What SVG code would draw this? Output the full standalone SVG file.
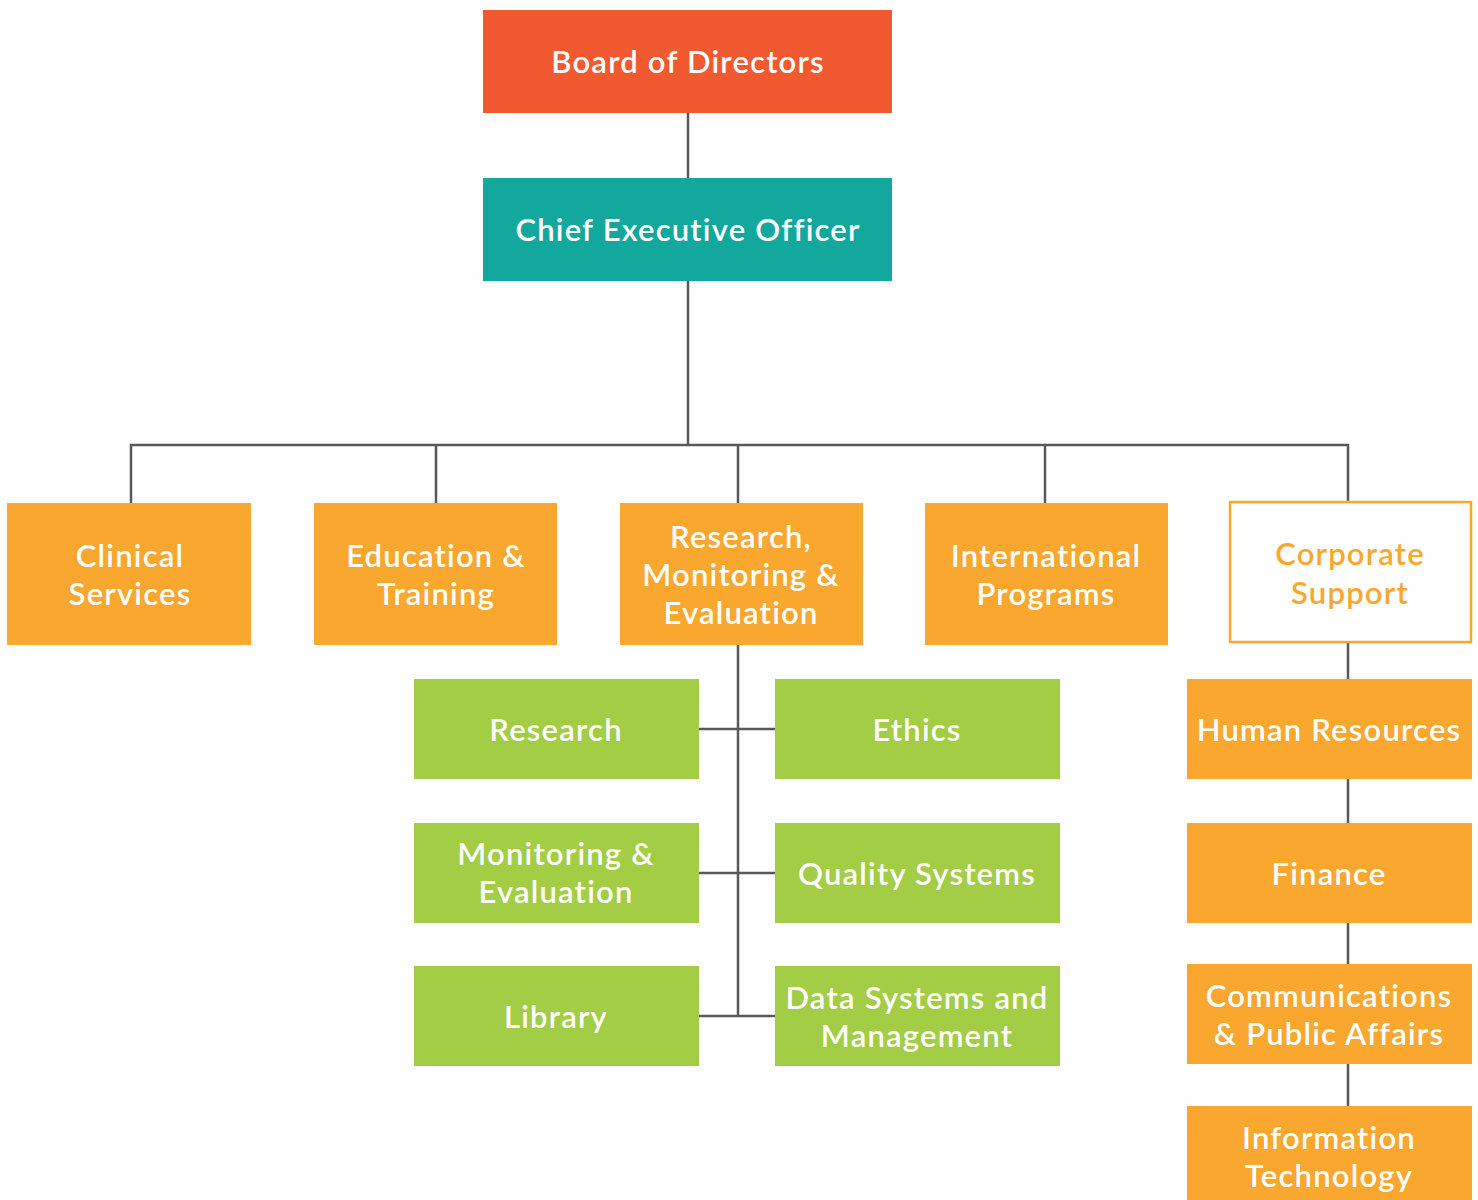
<svg xmlns="http://www.w3.org/2000/svg" width="1478" height="1200" viewBox="0 0 1478 1200">
<style>
.t{font-family:Lato,"Open Sans",sans-serif;font-size:31px;font-weight:600;fill:#fff;text-anchor:middle;letter-spacing:1.2px}
.ln{stroke:#58595B;stroke-width:2.5;fill:none}
.or{fill:#F9A72E}
.gr{fill:#A3CD45}
</style>
<rect width="1478" height="1200" fill="#fff"/>
<g id="connectors" class="ln">
<path d="M688 113V178M688 281V445M131 503V445H1348V503M436 445V503M738 445V503M1045 445V503"/>
<path d="M738 645V1016M699 729H775M699 873H775M699 1016H775"/>
<path d="M1348 643V1106"/>
</g>
<g id="board"><rect x="483" y="10" width="409" height="103" fill="#F15A31"/><text class="t" x="688" y="73">Board of Directors</text></g>
<g id="ceo"><rect x="483" y="178" width="409" height="103" fill="#13A89E"/><text class="t" x="688" y="241">Chief Executive Officer</text></g>
<g id="clinical"><rect class="or" x="7" y="503" width="244" height="142"/><text class="t" x="130" y="567">Clinical</text><text class="t" x="130" y="605">Services</text></g>
<g id="education"><rect class="or" x="314" y="503" width="243" height="142"/><text class="t" x="436" y="567">Education &amp;</text><text class="t" x="436" y="605">Training</text></g>
<g id="rme"><rect class="or" x="620" y="503" width="243" height="142"/><text class="t" x="741" y="548">Research,</text><text class="t" x="741" y="586">Monitoring &amp;</text><text class="t" x="741" y="624">Evaluation</text></g>
<g id="international"><rect class="or" x="925" y="503" width="243" height="142"/><text class="t" x="1046" y="567">International</text><text class="t" x="1046" y="605">Programs</text></g>
<g id="corporate"><rect x="1230" y="502" width="241" height="140" fill="#fff" stroke="#F9A72E" stroke-width="2.5"/><text class="t" x="1350" y="565" style="fill:#F9A72E">Corporate</text><text class="t" x="1350" y="604" style="fill:#F9A72E">Support</text></g>
<g id="research"><rect class="gr" x="414" y="679" width="285" height="100"/><text class="t" x="556" y="741">Research</text></g>
<g id="ethics"><rect class="gr" x="775" y="679" width="285" height="100"/><text class="t" x="917" y="741">Ethics</text></g>
<g id="me"><rect class="gr" x="414" y="823" width="285" height="100"/><text class="t" x="556" y="865">Monitoring &amp;</text><text class="t" x="556" y="903">Evaluation</text></g>
<g id="quality"><rect class="gr" x="775" y="823" width="285" height="100"/><text class="t" x="917" y="885">Quality Systems</text></g>
<g id="library"><rect class="gr" x="414" y="966" width="285" height="100"/><text class="t" x="556" y="1028">Library</text></g>
<g id="data"><rect class="gr" x="775" y="966" width="285" height="100"/><text class="t" x="917" y="1009">Data Systems and</text><text class="t" x="917" y="1047">Management</text></g>
<g id="hr"><rect class="or" x="1187" y="679" width="285" height="100"/><text class="t" x="1329" y="741">Human Resources</text></g>
<g id="finance"><rect class="or" x="1187" y="823" width="285" height="100"/><text class="t" x="1329" y="885">Finance</text></g>
<g id="comms"><rect class="or" x="1187" y="964" width="285" height="100"/><text class="t" x="1329" y="1007">Communications</text><text class="t" x="1329" y="1045">&amp; Public Affairs</text></g>
<g id="it"><rect class="or" x="1187" y="1106" width="285" height="100"/><text class="t" x="1329" y="1149">Information</text><text class="t" x="1329" y="1187">Technology</text></g>
</svg>
